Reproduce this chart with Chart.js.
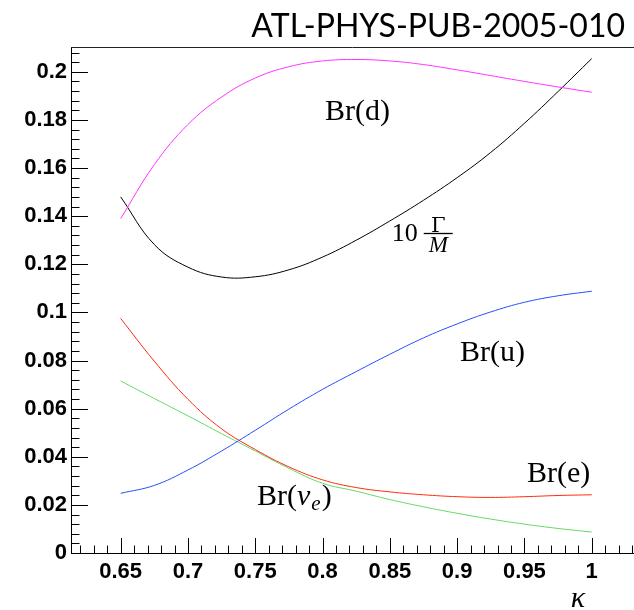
<!DOCTYPE html>
<html>
<head>
<meta charset="utf-8">
<script src="https://cdn.jsdelivr.net/npm/chart.js@4/dist/chart.umd.min.js"></script>
<style>
	body { margin: 0; background: #fff; }
	canvas { display: block; }
</style>
</head>
<body>
<canvas id="main-chart" width="634" height="610"></canvas>
<script>
// kappa values
const kappa = [0.65, 0.675, 0.70, 0.725, 0.75, 0.775, 0.80, 0.825, 0.85, 0.875, 0.90, 0.925, 0.95, 0.975, 1.0];

const brD   = [0.1390, 0.1614, 0.1781, 0.1895, 0.1974, 0.2021, 0.2045, 0.2051, 0.2045, 0.2030, 0.2008, 0.1984, 0.1960, 0.1937, 0.1915];
const width = [0.1480, 0.1282, 0.1188, 0.1147, 0.1148, 0.1177, 0.1230, 0.1300, 0.1380, 0.1466, 0.1560, 0.1665, 0.1786, 0.1918, 0.2055];
const brU   = [0.0248, 0.0281, 0.0345, 0.0424, 0.0510, 0.0598, 0.0680, 0.0754, 0.0826, 0.0894, 0.0952, 0.1002, 0.1042, 0.1069, 0.1088];
const brE   = [0.0975, 0.0797, 0.0639, 0.0516, 0.0430, 0.0358, 0.0304, 0.0272, 0.0254, 0.0242, 0.0234, 0.0231, 0.0234, 0.0239, 0.0242];
const brNu  = [0.0715, 0.0642, 0.0570, 0.0496, 0.0424, 0.0352, 0.0290, 0.0257, 0.0222, 0.0192, 0.0165, 0.0141, 0.0120, 0.0102, 0.0087];

const xTicks = [0.65, 0.7, 0.75, 0.8, 0.85, 0.9, 0.95, 1];
const yTicks = [0, 0.02, 0.04, 0.06, 0.08, 0.1, 0.12, 0.14, 0.16, 0.18, 0.2];

const xMin = 0.6131, xMax = 1.0314;
const yMin = 0, yMax = 0.2103;

function points(vals) {
	return kappa.map((k, i) => ({ x: k, y: vals[i] }));
}

function line(vals, color) {
	return {
		data: points(vals),
		borderColor: color,
		borderWidth: 1,
		pointRadius: 0,
		fill: false,
		tension: 0.4
	};
}

// text labels sit at data coordinates (left edge, baseline)
const extras = {
	id: 'extras',
	afterDraw(chart) {
		const ctx = chart.ctx;
		const xs = chart.scales.x, ys = chart.scales.y;
		const a = chart.chartArea;
		ctx.save();

		// frame top line
		ctx.strokeStyle = '#222';
		ctx.lineWidth = 1;
		ctx.beginPath();
		ctx.moveTo(a.left, a.top + 0.5);
		ctx.lineTo(a.right, a.top + 0.5);
		ctx.stroke();

		// ticks inside the frame, ROOT style
		ctx.strokeStyle = '#000';
		ctx.beginPath();
		for (let i = Math.ceil(xMin / 0.01); i <= Math.floor(xMax / 0.01); i++) {
			const v = i * 0.01;
			const px = Math.round(xs.getPixelForValue(v)) + 0.5;
			const major = i % 5 === 0;
			ctx.moveTo(px, a.bottom);
			ctx.lineTo(px, a.bottom - (major ? 15 : 7.5));
		}
		for (let i = 0; i * 0.004 <= yMax; i++) {
			const v = i * 0.004;
			const py = Math.round(ys.getPixelForValue(v)) + 0.5;
			const major = i % 5 === 0;
			ctx.moveTo(a.left, py);
			ctx.lineTo(a.left + (major ? 17 : 8.5), py);
		}
		ctx.stroke();

		ctx.fillStyle = '#000';
		ctx.textBaseline = 'alphabetic';
		ctx.textAlign = 'left';
		const serif = '"Liberation Serif", "Times New Roman", serif';

		function at(x, y) {
			return [xs.getPixelForValue(x), ys.getPixelForValue(y)];
		}

		ctx.font = '30px ' + serif;
		let p = at(0.8018, 0.1798);
		ctx.fillText('Br(d)', p[0], p[1]);
		p = at(0.9021, 0.0797);
		ctx.fillText('Br(u)', p[0], p[1]);
		p = at(0.9519, 0.0294);
		ctx.fillText('Br(e)', p[0], p[1]);

		// Br(nu_e)
		p = at(0.7513, 0.0200);
		let x0 = p[0];
		ctx.fillText('Br(', x0, p[1]);
		x0 += ctx.measureText('Br(').width;
		ctx.font = 'italic 30px ' + serif;
		ctx.fillText('ν', x0, p[1]);
		x0 += ctx.measureText('ν').width + 1;
		ctx.font = 'italic 21px ' + serif;
		ctx.fillText('e', x0, p[1] + 5);
		x0 += ctx.measureText('e').width + 1;
		ctx.font = '30px ' + serif;
		ctx.fillText(')', x0, p[1]);

		// 10 Gamma / M
		p = at(0.8514, 0.1296);
		ctx.font = '26px ' + serif;
		ctx.fillText('10', p[0], p[1]);
		const fx = p[0] + ctx.measureText('10').width + 6;
		const fw = 29;
		const barY = Math.round(p[1] - 8) + 0.5;
		ctx.beginPath();
		ctx.moveTo(fx, barY);
		ctx.lineTo(fx + fw, barY);
		ctx.lineWidth = 1.3;
		ctx.stroke();
		ctx.textAlign = 'center';
		ctx.font = '21px "DejaVu Serif", serif';
		ctx.fillText('Γ', fx + fw / 2, barY - 2);
		ctx.font = 'italic 23px ' + serif;
		ctx.fillText('M', fx + fw / 2, barY + 18);

		// kappa axis title
		ctx.font = 'italic 30px ' + serif;
		ctx.fillText('κ', 578, 607);

		// document tag
		ctx.textAlign = 'right';
		ctx.font = '32px Lato, "Open Sans", sans-serif';
		ctx.fillText('ATL-PHYS-PUB-2005-010', 625, 37);

		ctx.restore();
	}
};

const tickFont = { family: '"Liberation Sans", Arial, sans-serif', size: 22, weight: 'bold' };

var ctx = document.getElementById('main-chart');
new Chart(ctx, {
	type: 'line',
	data: {
		datasets: [
			line(brD, '#ff33ff'),
			line(width, '#000000'),
			line(brU, '#2a4cff'),
			line(brE, '#ff2a10'),
			line(brNu, '#66d866')
		]
	},
	options: {
		responsive: false,
		animation: false,
		layout: { padding: { top: 47, right: 0, left: 0, bottom: 0 } },
		plugins: { legend: { display: false }, tooltip: { enabled: false } },
		scales: {
			x: {
				type: 'linear',
				min: xMin,
				max: xMax,
				afterBuildTicks: s => { s.ticks = xTicks.map(v => ({ value: v })); },
				afterFit: s => { s.height = 57; },
				grid: { display: false, drawTicks: false },
				border: { display: true, color: '#000', width: 1 },
				ticks: {
					font: tickFont,
					color: '#000',
					padding: 6,
					maxRotation: 0,
					autoSkip: false,
					callback: v => String(v)
				}
			},
			y: {
				type: 'linear',
				min: yMin,
				max: yMax,
				afterBuildTicks: s => { s.ticks = yTicks.map(v => ({ value: v })); },
				afterFit: s => { s.width = 71; },
				grid: { display: false, drawTicks: false },
				border: { display: true, color: '#000', width: 1 },
				ticks: {
					font: tickFont,
					color: '#000',
					padding: 4,
					autoSkip: false,
					callback: v => String(v)
				}
			}
		}
	},
	plugins: [extras]
});
</script>
</body>
</html>
